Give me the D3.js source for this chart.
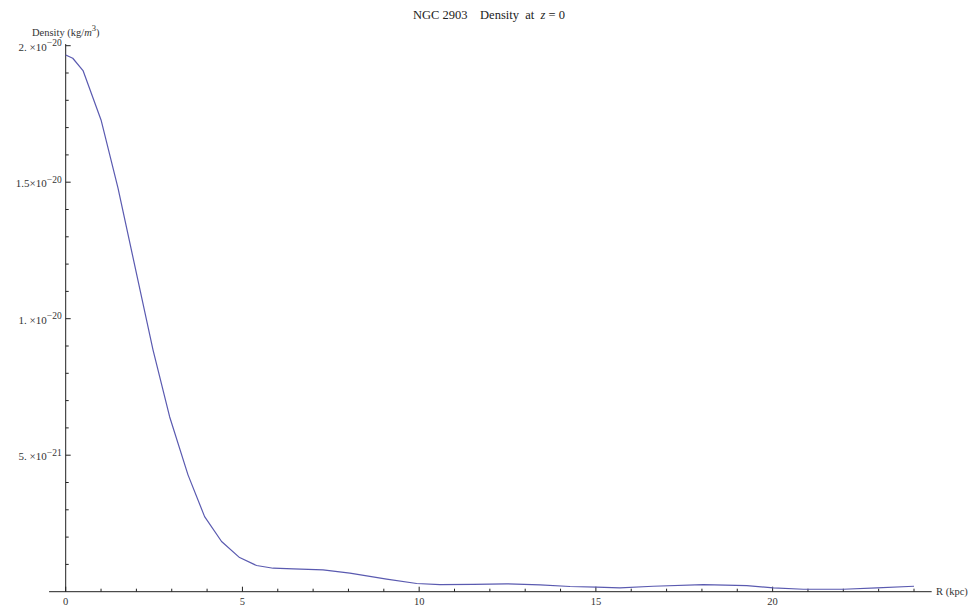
<!DOCTYPE html>
<html>
<head>
<meta charset="utf-8">
<script src="https://cdn.jsdelivr.net/npm/d3@7"></script>
<style>
  html, body { margin: 0; padding: 0; background: #fff; }
  svg { display: block; }
  text { font-family: "Liberation Serif", "Times New Roman", serif; }
</style>
</head>
<body>
<svg id="chart" width="974" height="608"></svg>
<script>
// ---- data ----
const radiusKpc = [0, 0.2, 0.49, 1.0, 1.48, 2.0, 2.47, 2.94, 3.46, 3.93, 4.41, 4.92, 5.40, 5.87,
  6.44, 7.28, 8.04, 9.08, 9.93, 10.59, 11.53, 12.47, 13.42, 14.27, 15.02, 15.68, 16.62,
  18.04, 19.27, 20.02, 20.87, 22.0, 22.95, 24.0];
const density = [1.966e-20, 1.954e-20, 1.909e-20, 1.728e-20, 1.478e-20, 1.167e-20, 8.86e-21,
  6.41e-21, 4.28e-21, 2.75e-21, 1.84e-21, 1.25e-21, 9.6e-22, 8.6e-22, 8.35e-22, 8.0e-22,
  6.8e-22, 4.6e-22, 3.0e-22, 2.6e-22, 2.7e-22, 2.9e-22, 2.5e-22, 1.9e-22, 1.65e-22, 1.4e-22,
  2.0e-22, 2.6e-22, 2.2e-22, 1.4e-22, 0.9e-22, 0.9e-22, 1.4e-22, 2.0e-22];
const xMajorTicks = [0, 5, 10, 15, 20];
const xTickLabels = ["0", "5", "10", "15", "20"];
const yMajorTicks = [5e-21, 1e-20, 1.5e-20, 2e-20];
const yTickMantissa = ["5. \u00D710", "1. \u00D710", "1.5\u00D710", "2. \u00D710"];
const yTickExponent = ["\u221221", "\u221220", "\u221220", "\u221220"];
const titleParts = ["NGC 2903    Density  at  ", "z", " = 0"];
const xAxisLabel = "R (kpc)";

// ---- layout ----
const svg = d3.select("#chart");
const x = d3.scaleLinear().domain([0, 24]).range([65.7, 914]);
const y = d3.scaleLinear().domain([0, 2e-20]).range([591.7, 45.7]);

const axisColor = "#222";
const labelColor = "#333";

// x axis line
svg.append("line")
  .attr("x1", x(-0.47)).attr("x2", x(24.5))
  .attr("y1", y(0)).attr("y2", y(0))
  .attr("stroke", axisColor).attr("stroke-width", 1);
// y axis line
svg.append("line")
  .attr("x1", x(0)).attr("x2", x(0))
  .attr("y1", y(0)).attr("y2", y(2.006e-20))
  .attr("stroke", axisColor).attr("stroke-width", 1);

// x ticks
const xMinor = d3.range(1, 25).filter(v => v % 5 !== 0);
svg.append("g").selectAll("line").data(xMinor).join("line")
  .attr("x1", d => x(d)).attr("x2", d => x(d))
  .attr("y1", y(0)).attr("y2", y(0) - 3)
  .attr("stroke", axisColor).attr("stroke-width", 1);
svg.append("g").selectAll("line").data(xMajorTicks).join("line")
  .attr("x1", d => x(d)).attr("x2", d => x(d))
  .attr("y1", y(0)).attr("y2", y(0) - 5)
  .attr("stroke", axisColor).attr("stroke-width", 1);
svg.append("g").selectAll("text").data(xMajorTicks).join("text")
  .attr("x", d => x(d)).attr("y", y(0) + 13)
  .attr("text-anchor", "middle")
  .attr("font-size", 10.5).attr("fill", labelColor)
  .text((d, i) => xTickLabels[i]);

// y ticks
const yMinor = d3.range(1, 20).filter(v => v % 5 !== 0).map(v => v * 1e-21);
svg.append("g").selectAll("line").data(yMinor).join("line")
  .attr("x1", x(0)).attr("x2", x(0) + 3)
  .attr("y1", d => y(d)).attr("y2", d => y(d))
  .attr("stroke", axisColor).attr("stroke-width", 1);
svg.append("g").selectAll("line").data(yMajorTicks).join("line")
  .attr("x1", x(0)).attr("x2", x(0) + 5)
  .attr("y1", d => y(d)).attr("y2", d => y(d))
  .attr("stroke", axisColor).attr("stroke-width", 1);
const yl = svg.append("g").selectAll("text").data(yMajorTicks).join("text")
  .attr("x", x(0) - 4).attr("y", d => y(d) + 5.2)
  .attr("text-anchor", "end")
  .attr("font-size", 11).attr("fill", labelColor);
yl.append("tspan").text((d, i) => yTickMantissa[i]);
yl.append("tspan").attr("dy", -4.8).attr("font-size", 9.5).text((d, i) => yTickExponent[i]);

// axis labels
const yLab = svg.append("text").attr("x", 32).attr("y", 35.5)
  .attr("font-size", 10.5).attr("fill", labelColor);
yLab.append("tspan").text("Density (kg/");
yLab.append("tspan").attr("font-style", "italic").text("m");
yLab.append("tspan").attr("dy", -4.5).attr("font-size", 8.5).text("3");
yLab.append("tspan").attr("dy", 4.5).text(")");

svg.append("text").attr("x", 936).attr("y", 595)
  .attr("font-size", 10.5).attr("fill", labelColor)
  .text(xAxisLabel);

// title
const title = svg.append("text").attr("x", 489).attr("y", 19)
  .attr("text-anchor", "middle").attr("font-size", 12.5).attr("fill", "#222")
  .attr("xml:space", "preserve").style("white-space", "pre");
title.append("tspan").text(titleParts[0]);
title.append("tspan").attr("font-style", "italic").text(titleParts[1]);
title.append("tspan").text(titleParts[2]);

// curve
const pts = radiusKpc.map((r, i) => [r, density[i]]);
svg.append("path")
  .datum(pts)
  .attr("fill", "none")
  .attr("stroke", "#5a5ab0")
  .attr("stroke-width", 1.2)
  .attr("stroke-linejoin", "round")
  .attr("d", d3.line().x(d => x(d[0])).y(d => y(d[1])).curve(d3.curveLinear));
</script>
</body>
</html>
